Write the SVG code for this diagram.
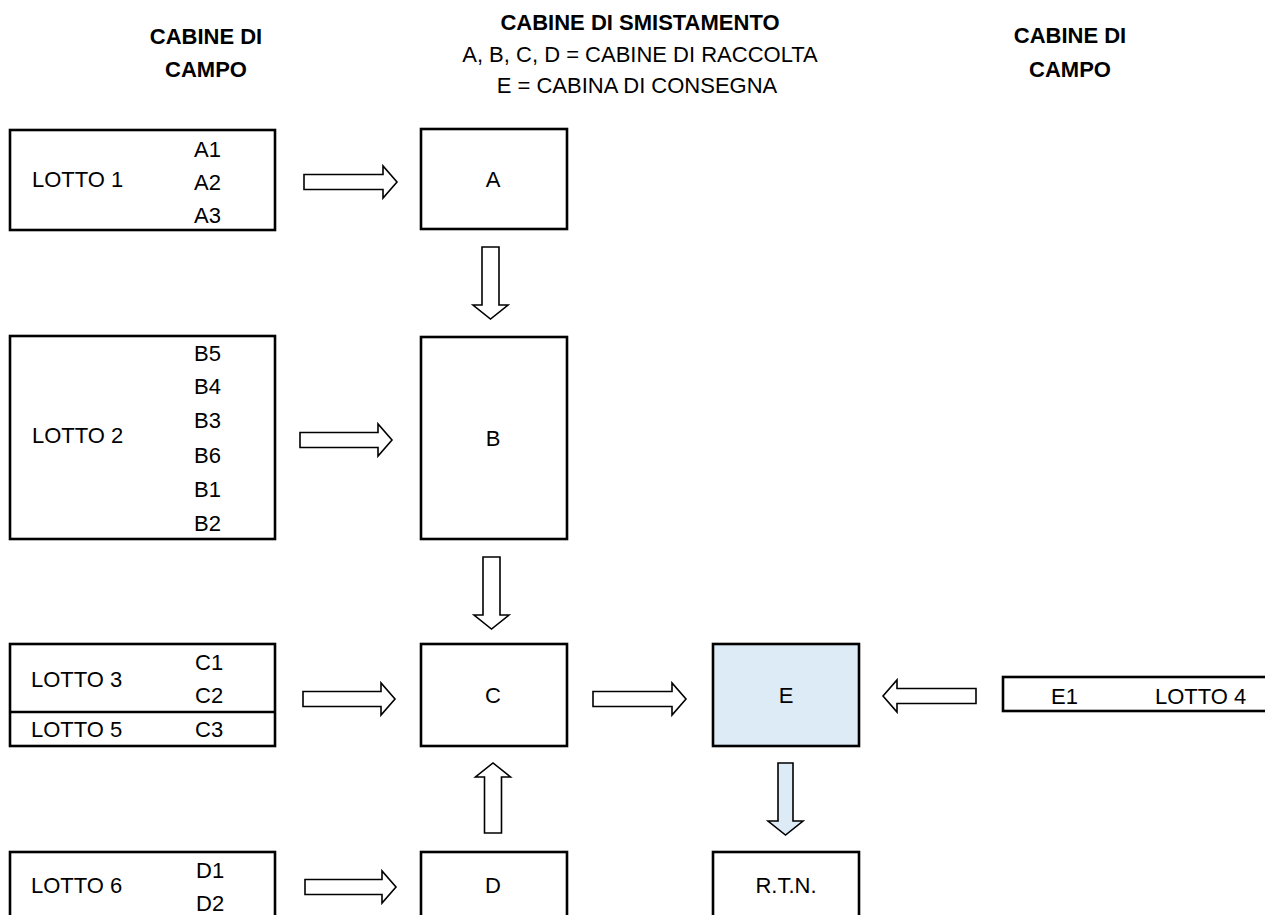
<svg xmlns="http://www.w3.org/2000/svg" width="1265" height="915" viewBox="0 0 1265 915">
<style>
text{font-family:"Liberation Sans",Arial,sans-serif;font-size:22px;fill:#000}
.h{font-weight:bold;text-anchor:middle}
.c{text-anchor:middle}
.box{fill:#fff;stroke:#000;stroke-width:2.6}
.blue{fill:#DDEBF7}
.arr{fill:#fff;stroke:#000;stroke-width:1.6;stroke-linejoin:miter}
.arrb{fill:#DDEBF7;stroke:#000;stroke-width:1.6}
</style>
<rect width="1265" height="915" fill="#fff"/>
<g id="headers">
<text class="h" x="206" y="44">CABINE DI</text>
<text class="h" x="206" y="77">CAMPO</text>
<text class="h" x="640" y="30">CABINE DI SMISTAMENTO</text>
<text class="c" x="640" y="62">A, B, C, D = CABINE DI RACCOLTA</text>
<text class="c" x="637" y="93">E = CABINA DI CONSEGNA</text>
<text class="h" x="1070" y="43">CABINE DI</text>
<text class="h" x="1070" y="77">CAMPO</text>
</g>
<g id="lotto1">
<rect class="box" x="10" y="130" width="265" height="100"/>
<text x="32" y="187">LOTTO 1</text>
<text x="194" y="157">A1</text>
<text x="194" y="190">A2</text>
<text x="194" y="223">A3</text>
</g>
<g id="nodeA">
<rect class="box" x="421" y="129" width="146" height="100"/>
<text class="c" x="493" y="187">A</text>
</g>
<g id="lotto2">
<rect class="box" x="10" y="336" width="265" height="203"/>
<text x="32" y="443">LOTTO 2</text>
<text x="194" y="361">B5</text>
<text x="194" y="394">B4</text>
<text x="194" y="428">B3</text>
<text x="194" y="463">B6</text>
<text x="194" y="497">B1</text>
<text x="194" y="531">B2</text>
</g>
<g id="nodeB">
<rect class="box" x="421" y="337" width="146" height="202"/>
<text class="c" x="493" y="446">B</text>
</g>
<g id="lotto3-5">
<rect class="box" x="10" y="644" width="265" height="102"/>
<line x1="10" y1="712" x2="275" y2="712" stroke="#000" stroke-width="2.6"/>
<text x="31" y="687">LOTTO 3</text>
<text x="195" y="670">C1</text>
<text x="195" y="703">C2</text>
<text x="31" y="737">LOTTO 5</text>
<text x="195" y="737">C3</text>
</g>
<g id="nodeC">
<rect class="box" x="421" y="644" width="146" height="102"/>
<text class="c" x="493" y="703">C</text>
</g>
<g id="nodeE">
<rect class="box blue" x="713" y="644" width="146" height="102"/>
<text class="c" x="786" y="703">E</text>
</g>
<g id="lotto4">
<rect class="box" x="1003" y="677" width="280" height="34"/>
<text x="1051" y="704">E1</text>
<text x="1155" y="704">LOTTO 4</text>
</g>
<g id="lotto6">
<rect class="box" x="10" y="852" width="265" height="80"/>
<text x="31" y="893">LOTTO 6</text>
<text x="196" y="878">D1</text>
<text x="196" y="911">D2</text>
</g>
<g id="nodeD">
<rect class="box" x="421" y="852" width="146" height="80"/>
<text class="c" x="493" y="893">D</text>
</g>
<g id="nodeRTN">
<rect class="box" x="713" y="852" width="146" height="80"/>
<text class="c" x="786" y="893">R.T.N.</text>
</g>
<g id="connectors">
<polygon class="arr" points="304,174.5 383,174.5 383,166 397,182 383,198 383,189.5 304,189.5"/>
<polygon class="arr" points="300,432.5 378,432.5 378,424 392,440 378,456 378,447.5 300,447.5"/>
<polygon class="arr" points="303,691.5 381,691.5 381,683 395,699 381,715 381,706.5 303,706.5"/>
<polygon class="arr" points="593,691.5 672,691.5 672,683 686,699 672,715 672,706.5 593,706.5"/>
<polygon class="arr" points="976,688.5 897,688.5 897,680 883,696 897,712 897,703.5 976,703.5"/>
<polygon class="arr" points="305,879.5 382,879.5 382,871 396,887 382,903 382,894.5 305,894.5"/>
<polygon class="arr" points="482,247 499,247 499,305 508,305 490.5,319 473,305 482,305"/>
<polygon class="arr" points="483,557 500,557 500,615 509,615 491.5,629 474,615 483,615"/>
<polygon class="arr" points="484.5,833 501.5,833 501.5,777 510.5,777 493,763 475.5,777 484.5,777"/>
<polygon class="arrb" points="778,763 793,763 793,821 803,821 785.5,835 768,821 778,821"/>
</g>
</svg>
